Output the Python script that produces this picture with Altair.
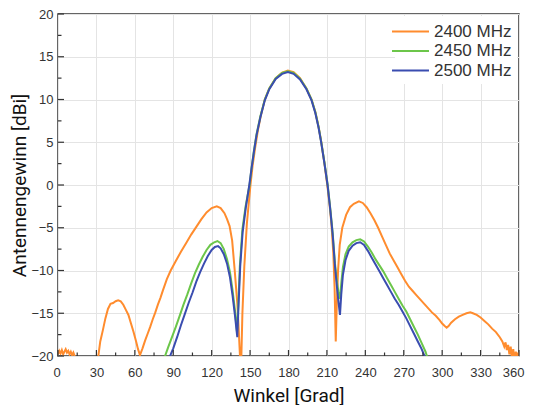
import altair as alt
import pandas as pd

series_names = ["2400 MHz", "2450 MHz", "2500 MHz"]
series_colors = ["#ff8c2e", "#6cc64a", "#3a4db0"]

angle_2400 = [0, 1, 2, 3, 4, 5, 6, 7, 8, 9, 10, 11, 12, 13, 14, 29.5, 31.5, 33, 35, 37, 39, 41, 43, 45, 47, 49,
              51, 53, 55, 57, 59, 61, 62.5, 64, 66, 68, 70, 72, 74, 76, 78, 80, 82, 85, 88, 92, 96, 100, 104,
              108, 112, 116, 120, 124, 127, 130, 132, 134, 136, 138, 140, 141, 142.1, 142.6, 143.2, 144, 145.5,
              147.5, 150.3, 152, 154, 156, 158.5, 161.5, 165, 170, 175, 179.5, 184, 189, 194, 198, 201, 203.5,
              205.5, 208, 210.3, 212, 213.5, 215, 216, 216.9, 217.7, 218.7, 220, 222, 225, 228, 231, 235, 238,
              241, 244, 247, 250, 253, 256, 259, 262, 265, 268, 271, 274, 277, 280, 283, 286, 289, 292, 295,
              298, 300, 302, 303.5, 305, 307, 310, 313, 316, 319, 322, 324, 327, 330, 333, 336, 339, 342, 345,
              347, 348.5, 349.5, 350.5, 351.5, 352.5, 353.5, 354.5, 355.5, 356.5, 357.5, 358.5, 359.3, 360]
gain_2400 = [-19.8, -19.4, -19.7, -19.3, -19.8, -19.5, -19.2, -19.6, -19.4, -19.8, -19.5, -19.9, -19.6, -20.0,
             -21, -21, -20, -18.3, -17, -15.6, -14.5, -13.9, -13.8, -13.6, -13.5, -13.6, -14, -14.6, -15.2,
             -16.2, -17.2, -18.3, -19.2, -19.9, -19.1, -18.2, -17.4, -16.6, -15.7, -14.9, -14.0, -13.2, -12.3,
             -11.0, -10.0, -8.9, -7.8, -6.8, -5.8, -4.9, -4.0, -3.2, -2.7, -2.5, -2.7, -3.3, -4.0, -4.8, -6.5,
             -10.0, -13.8, -16.5, -20, -24, -20, -15, -9.5, -4.5, 0, 2.3, 4.4, 6.3, 8.2, 10, 11.3, 12.5, 13.15,
             13.4, 13.2, 12.5, 11.3, 10, 8.5, 6.8, 5.1, 2.6, 0, -2.2, -4.5, -8, -12, -18.3, -14, -10, -7, -5,
             -3.5, -2.6, -2.2, -1.9, -2.1, -2.6, -3.3, -4.1, -5, -6, -7, -8, -8.8, -9.6, -10.4, -11.2, -11.9,
             -12.4, -12.9, -13.4, -13.9, -14.4, -14.9, -15.3, -15.8, -16.2, -16.5, -16.7, -16.5, -16.1, -15.7,
             -15.4, -15.2, -15.0, -14.9, -15.0, -15.2, -15.5, -15.9, -16.3, -16.8, -17.2, -17.8, -18.3, -18.9,
             -18.4, -19.3, -18.7, -19.8, -18.9, -20.3, -19.2, -20.5, -19.5, -20.2, -19.6, -20]

angle_2450 = [82, 83.6, 86, 89, 92, 95, 98, 101, 104, 107, 110, 113, 116, 119, 122, 124.5, 127, 129.5, 132,
              134.3, 136.3, 138.3, 139.8, 140.8, 142, 144, 146.5, 149.6, 151, 153, 155, 158, 161.5, 165, 170,
              175, 179.5, 184, 189, 194, 198, 201, 203.5, 205.5, 208, 210.6, 212.5, 214.5, 216.3, 217.8, 219,
              220.2, 221.2, 222.5, 224.5, 227, 230, 233, 236, 239, 242, 245, 248, 251, 254, 257, 260, 263, 266,
              269, 272, 275, 278, 281, 284, 287, 288.5]
gain_2450 = [-21, -20, -19, -17.8, -16.6, -15.3, -14, -12.8, -11.5, -10.3, -9.3, -8.4, -7.6, -7.0, -6.7, -6.55,
             -6.8, -7.5, -8.7, -10.2, -12.3, -14.8, -17.2, -14, -9.5, -5.2, -2.5, 0, 1.8, 4, 5.9, 8, 10, 11.3,
             12.5, 13.1, 13.3, 13.1, 12.45, 11.3, 10, 8.5, 6.8, 5.1, 2.7, 0, -2.6, -5.6, -9.2, -11.3, -12.5,
             -13.3, -11.5, -9.6, -8.1, -7.2, -6.7, -6.45, -6.35, -6.6, -7.2, -7.9, -8.7, -9.4, -10.1, -10.9,
             -11.7, -12.5, -13.3, -14.1, -14.8, -15.7, -16.6, -17.5, -18.5, -19.5, -20.2]

angle_2500 = [86, 87.5, 90, 93, 96, 99, 102, 105, 108, 111, 114, 117, 120, 122.5, 125, 127, 129.5, 132, 134.3,
              136.3, 138.3, 140, 141, 142.3, 144.2, 146.7, 149.4, 151, 153, 155, 158, 161.5, 165, 170, 175,
              179.5, 184, 189, 194, 198, 201, 203.5, 205.5, 208, 210.5, 212.5, 214.5, 216.3, 217.8, 219, 220.2,
              221.2, 222.5, 224.5, 227, 230, 233, 236, 239, 242, 245, 248, 251, 254, 257, 260, 263, 266, 269,
              272, 275, 278, 281, 284, 286.5]
gain_2500 = [-21, -20, -19.1, -17.8, -16.4, -15.1, -13.8, -12.6, -11.3, -10.2, -9.2, -8.3, -7.6, -7.25, -7.15,
             -7.4, -8.1, -9.2, -10.8, -12.9, -15.4, -17.8, -14, -9.5, -5.5, -2.6, 0, 1.8, 3.9, 5.8, 7.9, 9.9,
             11.2, 12.4, 13.0, 13.2, 13.0, 12.35, 11.2, 9.9, 8.4, 6.7, 5.0, 2.6, 0, -2.7, -5.8, -9.5, -11.9,
             -13.6, -15.2, -12.8, -10.5, -8.8, -7.7, -7.1, -6.8, -6.7, -7.0, -7.7, -8.5, -9.3, -10.1, -10.9,
             -11.7, -12.5, -13.3, -14.0, -14.8, -15.6, -16.5, -17.4, -18.3, -19.2, -20.1]

x_ticks = list(range(0, 361, 30))
x_minor = list(range(15, 360, 30))
y_ticks = list(range(-20, 21, 5))
y_minor = [-17.5, -12.5, -7.5, -2.5, 2.5, 7.5, 12.5, 17.5]

rows = []
for name, xs, ys in zip(series_names, [angle_2400, angle_2450, angle_2500], [gain_2400, gain_2450, gain_2500]):
    for a, g in zip(xs, ys):
        rows.append({"angle": a, "gain": g, "series": name})
df = pd.DataFrame(rows)

x_scale = alt.Scale(domain=[0, 360], nice=False, zero=False)
y_scale = alt.Scale(domain=[-20, 20], nice=False, zero=False)

xaxis = alt.Axis(values=x_ticks, title="Winkel [Grad]", labelPadding=20, labelBaseline="alphabetic",
                 labelFlush=True, labelFlushOffset=5,
                 titleX=230.5, titleY=45, titleBaseline="alphabetic", titleAlign="center")
yaxis = alt.Axis(values=y_ticks, title="Antennengewinn [dBi]", labelPadding=5, labelFlush=False,
                 titleX=-32.5, titleY=171, titleBaseline="alphabetic", titleAlign="center", titleAngle=270)

lines = alt.Chart(df).mark_line(strokeWidth=2, clip=True).encode(
    x=alt.X("angle:Q", scale=x_scale, axis=xaxis),
    y=alt.Y("gain:Q", scale=y_scale, axis=yaxis),
    color=alt.Color("series:N", scale=alt.Scale(domain=series_names, range=series_colors),
                    legend=alt.Legend(title=None, orient="none", legendX=337, legendY=2,
                                      fillColor="white", padding=5,
                                      symbolType="M-2,0H2", symbolSize=342, symbolStrokeWidth=2,
                                      labelFontSize=17, labelFont="Liberation Sans", labelColor="#333",
                                      labelOffset=13, rowPadding=0.5)),
    order=alt.Order("angle:Q"),
)

tick_color = "#333"
xmaj = alt.Chart(pd.DataFrame({"t": x_ticks})).mark_rule(color=tick_color, strokeWidth=1.2).encode(
    x=alt.X("t:Q", scale=x_scale, axis=xaxis), y=alt.value(342), y2=alt.value(336))
xmin = alt.Chart(pd.DataFrame({"t": x_minor})).mark_rule(color=tick_color, strokeWidth=1.2).encode(
    x=alt.X("t:Q", scale=x_scale, axis=xaxis), y=alt.value(342), y2=alt.value(338.5))
ymaj = alt.Chart(pd.DataFrame({"t": y_ticks})).mark_rule(color=tick_color, strokeWidth=1.2).encode(
    y=alt.Y("t:Q", scale=y_scale, axis=yaxis), x=alt.value(0), x2=alt.value(6))
ymin = alt.Chart(pd.DataFrame({"t": y_minor})).mark_rule(color=tick_color, strokeWidth=1.2).encode(
    y=alt.Y("t:Q", scale=y_scale, axis=yaxis), x=alt.value(0), x2=alt.value(3.5))

chart = alt.layer(lines, xmaj, xmin, ymaj, ymin).properties(
    width=461, height=342,
    autosize=alt.AutoSizeParams(type="none"),
    padding={"left": 50, "top": 6, "right": 6, "bottom": 49},
).configure_view(
    stroke="#333", strokeWidth=1.5
).configure_axis(
    grid=True, gridColor="#e4e4e4", gridWidth=1, ticks=False, tickSize=0, domain=False,
    labelFont="Liberation Sans", labelFontSize=13, labelColor="#333",
    titleFont="Roboto", titleFontSize=19, titleFontWeight="normal", titleColor="#111",
)

chart.save("out.html", embed_options={"renderer": "svg", "actions": False})
